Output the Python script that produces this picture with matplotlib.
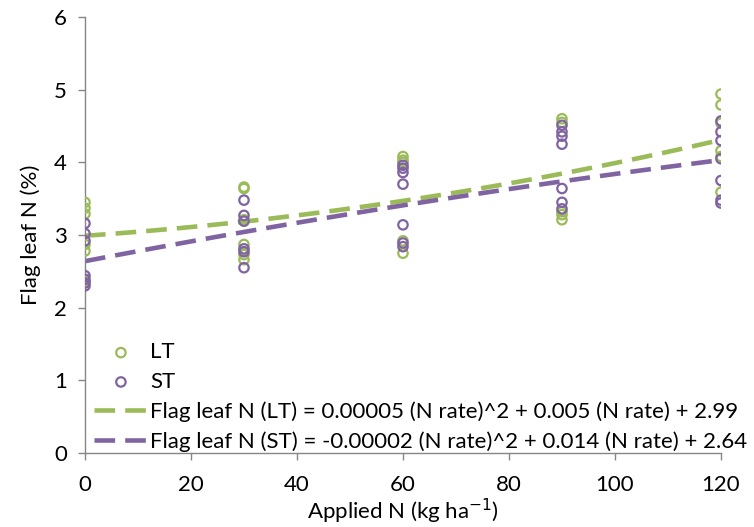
import matplotlib
matplotlib.use("Agg")
import matplotlib.pyplot as plt
import numpy as np

plt.rcParams['font.family'] = ['Lato', 'DejaVu Sans']

# applied N rate (kg/ha) for each observation
lt_x = [0, 0, 0, 0, 0, 0,
        30, 30, 30, 30, 30, 30,
        60, 60, 60, 60, 60,
        90, 90, 90, 90, 90,
        120, 120, 120, 120, 120, 120]
lt_y = [3.45, 3.37, 3.29, 2.87, 2.78, 2.36,
        3.66, 3.64, 3.21, 2.87, 2.73, 2.66,
        4.08, 4.03, 4.00, 2.92, 2.75,
        4.60, 4.55, 3.32, 3.28, 3.21,
        4.94, 4.79, 4.54, 4.16, 4.08, 3.59]

st_x = [0, 0, 0, 0, 0, 0, 0,
        30, 30, 30, 30, 30, 30,
        60, 60, 60, 60, 60, 60, 60,
        90, 90, 90, 90, 90, 90, 90,
        120, 120, 120, 120, 120, 120, 120]
st_y = [3.16, 3.02, 2.92, 2.44, 2.39, 2.34, 2.30,
        3.48, 3.27, 3.19, 2.81, 2.77, 2.55,
        3.96, 3.92, 3.86, 3.70, 3.14, 2.89, 2.84,
        4.51, 4.42, 4.36, 4.25, 3.64, 3.45, 3.36,
        4.57, 4.42, 4.30, 4.05, 3.75, 3.48, 3.44]

# trend line coefficients as printed in the legend (a, b, c)
lt_coef = [0.00005, 0.005, 2.99]
st_coef = [-0.00002, 0.014, 2.64]

lt_label = "Flag leaf N (LT) = 0.00005 (N rate)^2 + 0.005 (N rate) + 2.99"
st_label = "Flag leaf N (ST) = -0.00002 (N rate)^2 + 0.014 (N rate) + 2.64"

green = '#9bbb59'
purple = '#8064a2'

fig = plt.figure(figsize=(7.54, 5.27), dpi=100)
ax = fig.add_axes([0.1127, 0.1404, 0.8435, 0.8273])

ax.scatter(lt_x, lt_y, s=46, facecolors='none', edgecolors=green, linewidths=1.6, label='LT', zorder=3)
ax.scatter(st_x, st_y, s=46, facecolors='none', edgecolors=purple, linewidths=1.6, label='ST', zorder=3)

xx = np.linspace(0, 120, 100)
ax.plot(xx, np.polyval(lt_coef, xx), color=green, lw=3.3, dashes=(4.5, 2.2), label=lt_label, zorder=2)
ax.plot(xx, np.polyval(st_coef, xx), color=purple, lw=3.3, dashes=(4.5, 2.2), label=st_label, zorder=2)

ax.set_xlim(0, 120)
ax.set_ylim(0, 6)
ax.set_xticks(range(0, 121, 20))
ax.set_yticks(range(0, 7))
for s in ['top', 'right']:
    ax.spines[s].set_visible(False)
for s in ['left', 'bottom']:
    ax.spines[s].set_color('#868686')
    ax.spines[s].set_linewidth(1)
ax.tick_params(axis='both', direction='out', length=5, width=1, color='#868686',
               labelsize=16, labelcolor='black')
ax.tick_params(axis='x', pad=11)
ax.tick_params(axis='y', pad=8)
ax.set_xlabel('Applied N (kg ha$^{-1}$)', fontsize=16, labelpad=1)
ax.set_ylabel('Flag leaf N (%)', fontsize=16, labelpad=9)

ax.legend(loc='lower left', bbox_to_anchor=(0.125, 0.143), bbox_transform=fig.transFigure,
          frameon=False, fontsize=16, handlelength=2.4, handletextpad=0.1,
          labelspacing=0.42, borderaxespad=0, borderpad=0)

fig.savefig('out.png', dpi=100)
